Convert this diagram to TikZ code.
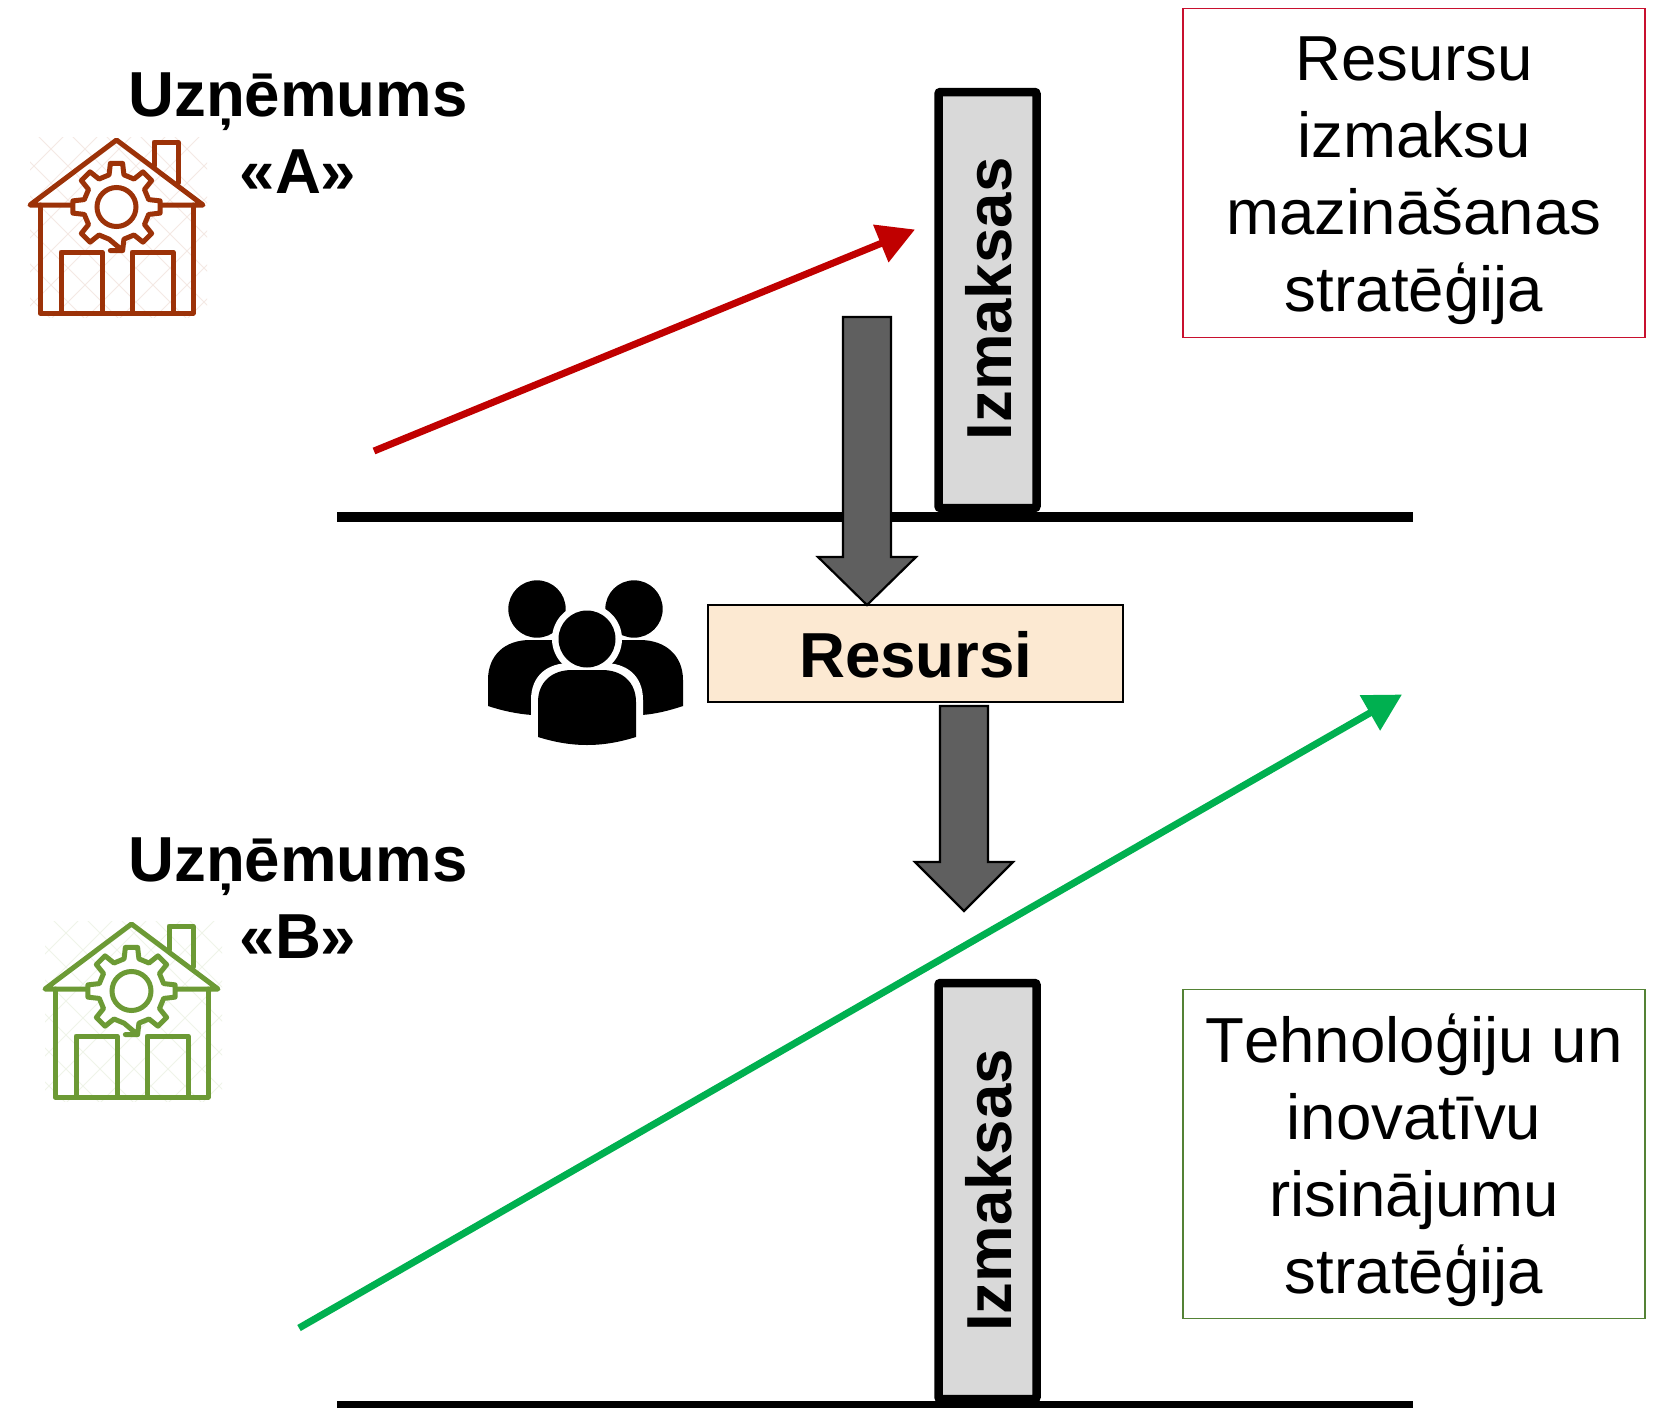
\documentclass[tikz,border=0pt]{standalone}
\usepackage{fontspec}
\setmainfont{Liberation Sans}
\usetikzlibrary{arrows.meta}
\definecolor{brickc}{HTML}{9C3208}
\definecolor{leafc}{HTML}{6C9A35}
\definecolor{redc}{HTML}{C00000}
\definecolor{greenc}{HTML}{00B050}
\definecolor{boxgreen}{HTML}{548235}
\definecolor{boxred}{HTML}{C8102E}
\definecolor{barfill}{HTML}{D9D9D9}
\definecolor{greyfill}{HTML}{5F5F5F}
\definecolor{resfill}{HTML}{FCE9D2}
\tikzset{
  big/.style={font=\fontsize{63.6}{77}\selectfont, text depth=0pt, inner sep=0pt, align=center},
  bigb/.style={big, font=\fontsize{63.6}{77}\selectfont\bfseries},
  bar/.style={draw=black, line width=8.5pt, fill=barfill, rounded corners=2pt, minimum width=98pt, minimum height=416pt, inner sep=0pt},
  ground/.style={line width=10pt, black},
  stratbox/.style={line width=1.4pt, fill=white, minimum width=462pt, minimum height=329pt, inner sep=0pt},
  trend/.style={line width=7pt, -{Triangle[length=37pt,width=39pt]}},
  blockarrow/.style={draw=black, line width=2.2pt, fill=greyfill, line join=miter},
  houseline/.style={line width=5pt, line join=round, line cap=round},
  house/.pic={
    \begin{scope}
      \clip (30,137) rectangle (207,317);
      \foreach \k in {-8,...,12} {
        \draw[#1!11, line width=1pt] (\k*34-100,100) -- (\k*34+200,400);
        \draw[#1!11, line width=1pt] (\k*34+100,100) -- (\k*34-200,400);
      }
    \end{scope}
    \draw[houseline, #1] (154,166) -- (154,142) -- (178,142) -- (178,183);
    \draw[houseline, #1] (40,205) -- (40,313) -- (193,313) -- (193,205);
    \draw[houseline, #1] (61,313) -- (61,252) -- (102,252) -- (102,313);
    \draw[houseline, #1] (132,313) -- (132,252) -- (173,252) -- (173,313);
    \draw[houseline, #1] (30,205) -- (116.5,140) -- (203,205) -- cycle;
    \begin{scope}[shift={(116.5,207)}]
      \draw[houseline, #1, fill=white] (82:44)
        \foreach \a in {90,45,0,-45,-90,-135,-180,-225} {
          -- (\a+8:44) -- (\a-8:44) -- (\a-13:33) -- (\a-32:33)
        } -- cycle;
      \draw[#1, line width=5pt] (0,0) circle[radius=19.5pt];
    \end{scope}
  }
}
\begin{document}
\begin{tikzpicture}[x=1pt,y=-1pt]
\useasboundingbox (0,0) rectangle (1666,1408);
\fill[white] (0,0) rectangle (1666,1408);

% ground lines
\coordinate (g1a) at (337,516.5); \coordinate (g1b) at (1413,516.5);
\coordinate (g2a) at (337,1406); \coordinate (g2b) at (1413,1406);
\draw[ground] (g1a) -- (g1b);
\draw[ground] (g2a) -- (g2b);

% cost bars
\node[bar] (bar1) at (987.5,300) {};
\node[bar] (bar2) at (987.5,1191) {};
\node[bigb, rotate=90] (bar1t) at (988.5,299) {Izmaksas};
\node[bigb, rotate=90] (bar2t) at (988.5,1190.5) {Izmaksas};

% strategy boxes
\node[stratbox, draw=boxred] (boxa) at (1414,173) {};
\node[stratbox, draw=boxgreen] (boxb) at (1414,1154) {};
\node[big] (boxat) at (1414,174) {Resursu\\izmaksu\\mazināšanas\\stratēģija};
\node[big] (boxbt) at (1414,1153.5) {T\kern0pt ehnoloģiju un\\inovatīvu\\risinājumu\\stratēģija};

% company labels
\node[bigb] (ua) at (298,133) {Uzņēmums\\«A»};
\node[bigb] (ub) at (298,898) {Uzņēmums\\«B»};

% houses
\pic {house=brickc};
\begin{scope}[shift={(15,784)}]
\pic {house=leafc};
\end{scope}

% trend arrows
\coordinate (ra) at (374,451); \coordinate (rb) at (915,229.5);
\coordinate (ga) at (299,1328); \coordinate (gb) at (1402,694.5);
\draw[trend, redc] (ra) -- (rb);
\draw[trend, greenc] (ga) -- (gb);

% resources box
\node[draw=black, line width=1.6pt, fill=resfill, minimum width=415pt, minimum height=97pt, inner sep=0pt] (res) at (915.5,653.5) {};
\node[bigb, anchor=base] (rest) at (916,677) {Resursi};

% block arrows
\draw[blockarrow] (843,317) -- (891,317) -- (891,557) -- (916,557) -- (867,605) -- (818,557) -- (843,557) -- cycle;
\draw[blockarrow] (940,706) -- (988,706) -- (988,862) -- (1013,862) -- (964,911) -- (915,862) -- (940,862) -- cycle;

% people
\fill (537,609) circle[radius=28.7pt];
\fill (634,609) circle[radius=28.7pt];
\fill (488,706) -- (488,680) .. controls (488,655) and (505,640) .. (530,640) -- (640,640) .. controls (665,640) and (683,655) .. (683,680) -- (683,706) .. controls (668,711) and (655,714) .. (642,715) -- (532,715) .. controls (518,714) and (503,711) .. (488,706) -- cycle;
\fill[white] (587,639) circle[radius=35pt];
\fill[white] (531,745) -- (531,700) .. controls (531,675) and (548,663) .. (570,663) -- (604,663) .. controls (626,663) and (643,675) .. (643,700) -- (643,745) -- cycle;
\fill (587,639) circle[radius=28.5pt];
\fill (538,737) -- (538,702) .. controls (538,682) and (552,670) .. (572,670) -- (602,670) .. controls (622,670) and (636,682) .. (636,702) -- (636,737) .. controls (620,742) and (604,745) .. (587,745) .. controls (570,745) and (554,742) .. (538,737) -- cycle;
\end{tikzpicture}
\end{document}
